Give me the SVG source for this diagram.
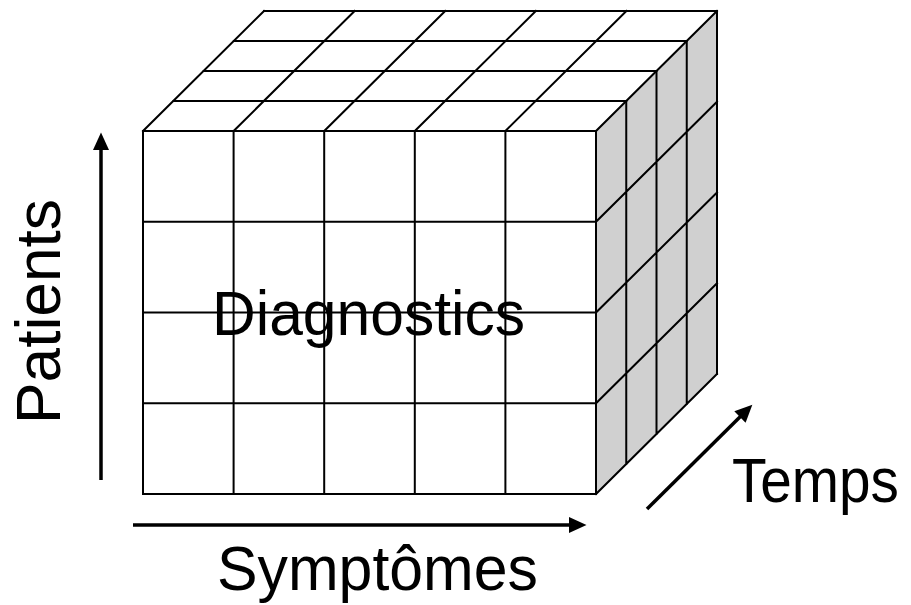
<svg xmlns="http://www.w3.org/2000/svg" width="911" height="605" viewBox="0 0 911 605">
<style>
.grid{stroke:#000;stroke-width:2;fill:none;stroke-linecap:square}
.face{stroke:none}
.axis{stroke:#000;stroke-width:3.5;fill:none}
.lbl{font-family:"Liberation Sans",Arial,sans-serif;font-size:63px;fill:#000}
</style>
<defs>
<marker id="ah" markerUnits="userSpaceOnUse" markerWidth="18" markerHeight="17" refX="6" refY="8.5" orient="auto" viewBox="0 0 18 17">
<path d="M0,0.5 L17.5,8.5 L0,16.5 z" fill="#000"/>
</marker>
</defs>
<rect width="911" height="605" fill="#fff"/>
<g id="cube">
<polygon class="face" fill="#fff" points="143,131 596,131 717,11 264,11"/>
<polygon class="face" fill="#d0d0d0" points="596,131 717,11 717,374 596,494"/>
<rect class="face" fill="#fff" x="143" y="131" width="453" height="363"/>
<path class="grid" d="M173.25,101H626.25M203.5,71H656.5M233.75,41H686.75M264,11H717
M143,131L264,11M233.6,131L354.6,11M324.2,131L445.2,11M414.8,131L535.8,11M505.4,131L626.4,11M596,131L717,11"/>
<path class="grid" d="M626.25,101V464M656.5,71V434M686.75,41V404M717,11V374
M596,221.75L717,101.75M596,312.5L717,192.5M596,403.25L717,283.25M596,494L717,374"/>
<path class="grid" d="M143,131H596M143,221.75H596M143,312.5H596M143,403.25H596M143,494H596
M143,131V494M233.6,131V494M324.2,131V494M414.8,131V494M505.4,131V494M596,131V494"/>
</g>
<g id="axes">
<path id="axis-patients" class="axis" d="M101,480V144" marker-end="url(#ah)"/>
<path id="axis-symptomes" class="axis" d="M133,525H575" marker-end="url(#ah)"/>
<path id="axis-temps" class="axis" d="M647,509L744.2,412.8" marker-end="url(#ah)"/>
</g>
<g id="labels">
<text class="lbl" x="212" y="335" textLength="313" lengthAdjust="spacingAndGlyphs">Diagnostics</text>
<text class="lbl" x="217" y="590" textLength="321" lengthAdjust="spacingAndGlyphs">Symptômes</text>
<text class="lbl" transform="translate(732,502) scale(0.9,1)" x="0" y="0">Temps</text>
<text class="lbl" transform="translate(60,424) rotate(-90)" x="0" y="0" textLength="225" lengthAdjust="spacingAndGlyphs">Patients</text>
</g>
</svg>
